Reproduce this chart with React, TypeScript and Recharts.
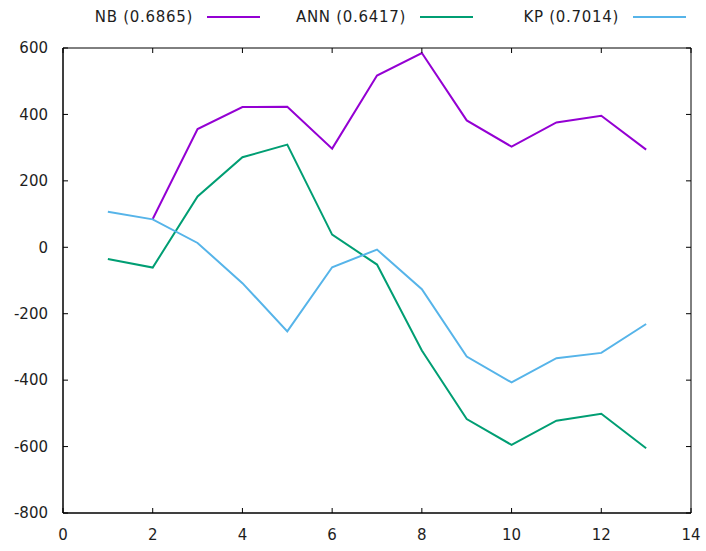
import React from "react";
import { LineChart, Line, XAxis, YAxis, ReferenceArea } from "recharts";

const xValues = [1, 2, 3, 4, 5, 6, 7, 8, 9, 10, 11, 12, 13];
const nbValues = [null, 85, 356, 422, 423, 297, 517, 585, 382, 303, 376, 396, 294];
const annValues = [-35, -61, 153, 271, 309, 38, -52, -311, -517, -595, -522, -501, -605];
const kpValues = [107, 84, 13, -108, -253, -60, -7, -126, -329, -407, -334, -318, -231];

const xTicks = [0, 2, 4, 6, 8, 10, 12, 14];
const yTicks = [-800, -600, -400, -200, 0, 200, 400, 600];

const seriesInfo = [
  { key: "nb", name: "NB (0.6865)", color: "#9400d3" },
  { key: "ann", name: "ANN (0.6417)", color: "#009e73" },
  { key: "kp", name: "KP (0.7014)", color: "#56b4e9" },
];

const data = xValues.map((x, i) => ({
  x,
  nb: nbValues[i],
  ann: annValues[i],
  kp: kpValues[i],
}));

// plot box (gnuplot style frame with inward ticks on all sides)
const W = 706;
const H = 551;
const TOP = 48;
const BOTTOM = 513;
const LEFT = 63;
const RIGHT = 691;
const TICK = 5;

const FONT = "'DejaVu Sans', sans-serif";
const TEXT = "#1e1e1e";

const XTick = (props: any) => {
  const { x, y, payload } = props;
  return (
    <g>
      <line x1={x} x2={x} y1={BOTTOM} y2={BOTTOM - TICK} stroke="#000" />
      <line x1={x} x2={x} y1={TOP} y2={TOP + TICK} stroke="#000" />
      <text x={x} y={y} dy="0.71em" textAnchor="middle" fontSize={15} fontFamily={FONT} fill={TEXT}>
        {payload.value}
      </text>
    </g>
  );
};

const YTick = (props: any) => {
  const { x, y, payload } = props;
  return (
    <g>
      <line x1={LEFT} x2={LEFT + TICK} y1={y} y2={y} stroke="#000" />
      <line x1={RIGHT} x2={RIGHT - TICK} y1={y} y2={y} stroke="#000" />
      <text x={x} y={y} dy="0.355em" textAnchor="end" fontSize={15} fontFamily={FONT} fill={TEXT}>
        {payload.value}
      </text>
    </g>
  );
};

const Legend = () => (
  <div
    style={{
      position: "absolute",
      left: 47,
      top: 0,
      display: "flex",
      fontFamily: FONT,
      fontSize: 15,
      color: TEXT,
    }}
  >
    {seriesInfo.map((s) => (
      <div key={s.key} style={{ width: 213, height: 34, display: "flex", alignItems: "center" }}>
        <span style={{ width: 146, textAlign: "right", whiteSpace: "nowrap", letterSpacing: 0.7 }}>
          {s.name}
        </span>
        <span style={{ width: 53, height: 2, marginLeft: 14, background: s.color }} />
      </div>
    ))}
  </div>
);

export default function App() {
  return (
    <div style={{ position: "absolute", left: 0, top: 0, width: W, height: H, background: "#fff" }}>
      <LineChart
        width={W}
        height={H}
        data={data}
        margin={{ top: TOP, right: W - RIGHT, bottom: 0, left: 0 }}
      >
        <XAxis
          dataKey="x"
          type="number"
          domain={[0, 14]}
          ticks={xTicks}
          height={H - BOTTOM}
          tick={<XTick />}
          tickLine={false}
          tickSize={0}
          tickMargin={16}
          stroke="#000"
          interval={0}
        />
        <YAxis
          type="number"
          domain={[-800, 600]}
          ticks={yTicks}
          width={LEFT}
          tick={<YTick />}
          tickLine={false}
          tickSize={0}
          tickMargin={15}
          stroke="#000"
          interval={0}
        />
        <ReferenceArea x1={0} x2={14} y1={-800} y2={600} fill="none" stroke="#000" strokeWidth={1} ifOverflow="visible" />
        {seriesInfo.map((s) => (
          <Line
            key={s.key}
            dataKey={s.key}
            name={s.name}
            type="linear"
            stroke={s.color}
            strokeWidth={2}
            dot={false}
            activeDot={false}
            isAnimationActive={false}
          />
        ))}
      </LineChart>
      <Legend />
    </div>
  );
}
